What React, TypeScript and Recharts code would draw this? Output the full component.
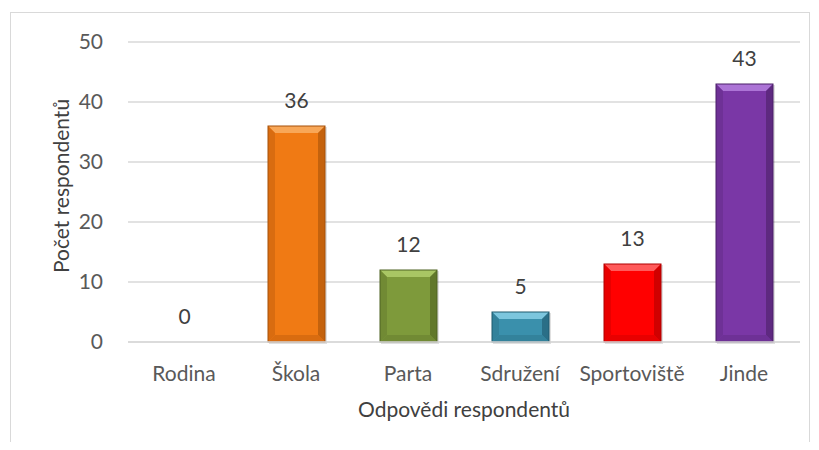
import React from "react";
import { BarChart, Bar, XAxis, YAxis, CartesianGrid, Cell, LabelList } from "recharts";

const categories = ["Rodina", "Škola", "Parta", "Sdružení", "Sportoviště", "Jinde"];
const counts = [0, 36, 12, 5, 13, 43];
const yTicks = [0, 10, 20, 30, 40, 50];

const data = categories.map((name, i) => ({ name, value: counts[i] }));

// base / highlight / shade for the bevelled bars
const palette = [
  { base: "#4F81BD", light: "#8AB0DE", side: "#416B9E", dark: "#2F4F75" },
  { base: "#F07A14", light: "#F8A758", side: "#D96C10", dark: "#A65108" },
  { base: "#7E9A3B", light: "#A9C664", side: "#718A34", dark: "#4F6222" },
  { base: "#3A90AC", light: "#7CC6DE", side: "#33829B", dark: "#1F5A6E" },
  { base: "#FF0000", light: "#FF5A5A", side: "#E80000", dark: "#B00000" },
  { base: "#7A37A6", light: "#AC74D6", side: "#6E3196", dark: "#4B1F68" },
];

const font = "Lato, 'Open Sans', sans-serif";

function BevelBar(props: any) {
  const { x, y, width: w, height: h, index } = props;
  if (!h || h <= 0) return null;
  const c = palette[index];
  const b = Math.min(7, h / 2, w / 2);
  const p = (pts: number[][]) => pts.map((q) => q.join(",")).join(" ");
  return (
    <g>
      <rect x={x + 1} y={y + 1} width={w + 1} height={h + 1} fill="#000" opacity={0.12} />
      <rect x={x} y={y} width={w} height={h} fill={c.base} />
      <polygon points={p([[x, y], [x + w, y], [x + w - b, y + b], [x + b, y + b]])} fill={c.light} />
      <polygon points={p([[x, y], [x + b, y + b], [x + b, y + h - b], [x, y + h]])} fill={c.side} />
      <polygon points={p([[x + w, y], [x + w - b, y + b], [x + w - b, y + h - b], [x + w, y + h]])} fill={c.dark} opacity={0.6} />
      <polygon points={p([[x, y + h], [x + b, y + h - b], [x + w - b, y + h - b], [x + w, y + h]])} fill={c.side} />
      <rect x={x} y={y} width={w} height={h} fill="none" stroke={c.dark} strokeWidth={1} />
    </g>
  );
}

function YTitle(props: any) {
  const vb = props.viewBox || {};
  const cx = vb.x + 60;
  const cy = vb.y + vb.height / 2 - 6;
  return (
    <text
      x={cx}
      y={cy}
      transform={`rotate(-90, ${cx}, ${cy})`}
      textAnchor="middle"
      dominantBaseline="central"
      fill="#404040"
      fontSize={21}
      fontFamily={font}
    >
      Počet respondentů
    </text>
  );
}

export default function App() {
  return (
    <div style={{ position: "relative", width: 819, height: 450, margin: -8, background: "#fff", overflow: "hidden" }}>
      <div
        style={{
          position: "absolute",
          left: 10,
          top: 12,
          width: 800,
          height: 460,
          border: "1px solid #D9D9D9",
          boxSizing: "border-box",
        }}
      />
      <div style={{ position: "absolute", left: 0, top: 0 }}>
        <BarChart
          width={819}
          height={450}
          data={data}
          margin={{ top: 42, right: 19, bottom: 0, left: 0 }}
          barSize={57}
        >
          <CartesianGrid vertical={false} stroke="#D9D9D9" strokeWidth={1.3} />
          <XAxis
            dataKey="name"
            height={108}
            axisLine={{ stroke: "#D9D9D9", strokeWidth: 1.5 }}
            tickLine={false}
            tickSize={0}
            tickMargin={24}
            interval={0}
            tick={{ fill: "#595959", fontSize: 21, fontFamily: font }}
            label={{
              value: "Odpovědi respondentů",
              position: "insideBottom",
              offset: 33,
              style: { fill: "#404040", fontSize: 21, fontFamily: font },
            }}
          />
          <YAxis
            width={128}
            domain={[0, 50]}
            ticks={yTicks}
            axisLine={false}
            tickLine={false}
            tickSize={0}
            tickMargin={25}
            tick={{ fill: "#595959", fontSize: 21, fontFamily: font }}
            label={<YTitle />}
          />
          <Bar dataKey="value" isAnimationActive={false} shape={<BevelBar />}>
            {data.map((d, i) => (
              <Cell key={d.name} fill={palette[i].base} />
            ))}
            <LabelList
              dataKey="value"
              position="top"
              offset={18}
              style={{ fill: "#404040", fontSize: 21, fontFamily: font }}
            />
          </Bar>
        </BarChart>
      </div>
    </div>
  );
}
